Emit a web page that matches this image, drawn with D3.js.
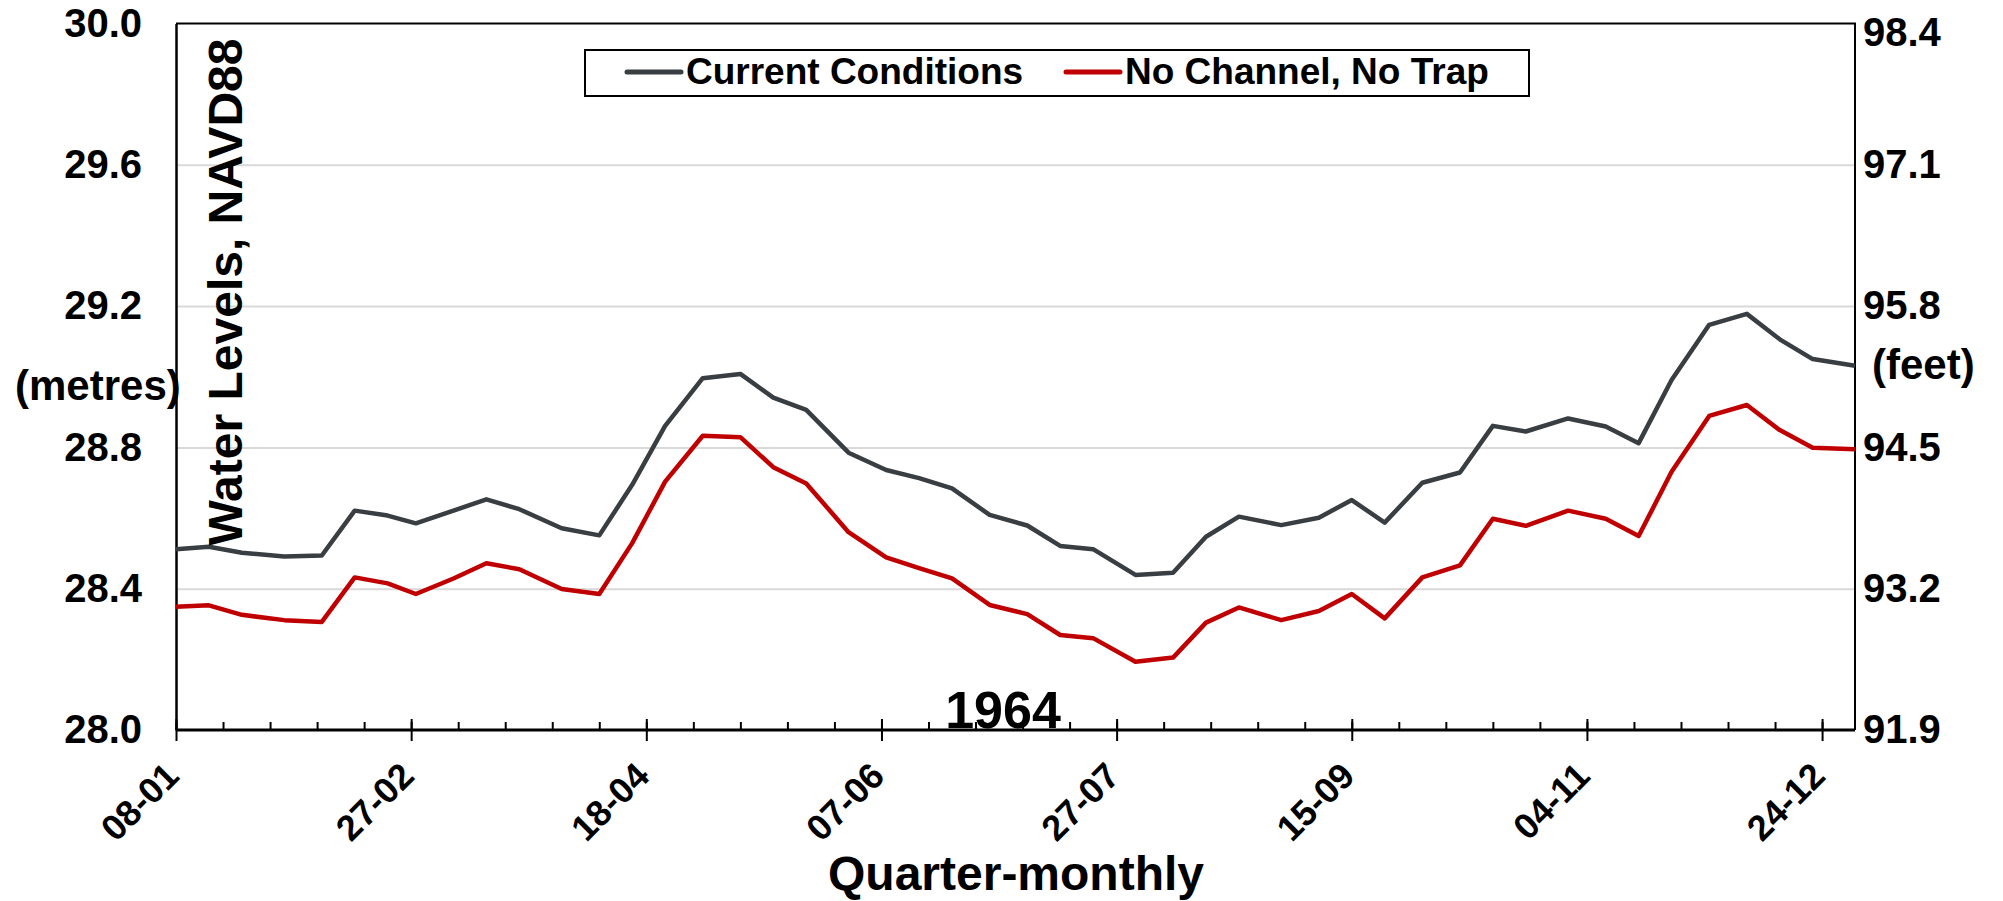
<!DOCTYPE html>
<html>
<head>
<meta charset="utf-8">
<script src="https://cdn.jsdelivr.net/npm/d3@7"></script>
<style>
  body { margin: 0; background: #fff; }
  svg { display: block; font-family: "Liberation Sans", Arial, sans-serif; font-weight: bold; }
</style>
</head>
<body>
<div id="chart"></div>
<script>
const width = 2003;
const height = 901;
const margin = { top: 23.5, right: 148, bottom: 171, left: 176 };

// quarter-monthly dates (dd-mm)
const dates = [
  "08-01", "15-01", "22-01", "31-01", "08-02", "15-02", "22-02", "28-02",
  "08-03", "15-03", "22-03", "31-03", "08-04", "15-04", "22-04", "30-04",
  "08-05", "15-05", "22-05", "31-05", "08-06", "15-06", "22-06", "30-06",
  "08-07", "15-07", "22-07", "31-07", "08-08", "15-08", "22-08", "31-08",
  "08-09", "15-09", "22-09", "30-09", "08-10", "15-10", "22-10", "31-10",
  "08-11", "15-11", "22-11", "30-11", "08-12", "15-12", "22-12", "31-12"
];

const currentConditions = [
  28.512, 28.519, 28.502, 28.491, 28.494, 28.621, 28.607, 28.585,
  28.621, 28.653, 28.625, 28.571, 28.551, 28.694, 28.861, 28.996,
  29.008, 28.941, 28.906, 28.785, 28.736, 28.713, 28.684, 28.609,
  28.579, 28.521, 28.512, 28.439, 28.445, 28.547, 28.604, 28.580,
  28.601, 28.651, 28.587, 28.700, 28.729, 28.861, 28.845, 28.882,
  28.859, 28.812, 28.991, 29.147, 29.178, 29.106, 29.050, 29.031
];

const noChannelNoTrap = [
  28.349, 28.353, 28.326, 28.311, 28.306, 28.432, 28.415, 28.385,
  28.429, 28.472, 28.455, 28.399, 28.385, 28.529, 28.703, 28.833,
  28.829, 28.744, 28.698, 28.560, 28.489, 28.458, 28.429, 28.354,
  28.328, 28.269, 28.260, 28.193, 28.205, 28.304, 28.347, 28.311,
  28.337, 28.385, 28.316, 28.432, 28.466, 28.598, 28.578, 28.621,
  28.598, 28.549, 28.731, 28.889, 28.920, 28.849, 28.799, 28.795
];

const xTickLabels = ["08-01", "27-02", "18-04", "07-06", "27-07", "15-09", "04-11", "24-12"];
const metreTicks = [28.0, 28.4, 28.8, 29.2, 29.6, 30.0];
const feetLabels = ["91.9", "93.2", "94.5", "95.8", "97.1", "98.4"];
const seriesNames = ["Current Conditions", "No Channel, No Trap"];
const seriesColors = ["#383e42", "#c00000"];

const parseDay = d3.utcParse("%d-%m");
const M_TO_FT = 3.28084;

let svg = d3.select("#chart")
            .append("svg")
            .attr("width", width)
            .attr("height", height);

const x0 = margin.left;
const x1 = width - margin.right;
const y0 = height - margin.bottom;
const y1 = margin.top;

let x = d3.scaleUtc()
          .domain([parseDay(dates[0]), parseDay(dates[dates.length - 1])])
          .range([x0, x1]);
let y = d3.scaleLinear().domain([28, 30]).range([y0, y1]);
let yFeet = d3.scaleLinear().domain([28 * M_TO_FT, 30 * M_TO_FT]).range([y0, y1]);

// gridlines
svg.append("g")
   .attr("transform", `translate(${x0},0)`)
   .call(d3.axisLeft(y).tickValues(metreTicks.slice(1, -1)).tickSize(-(x1 - x0)).tickFormat(""))
   .call(g => g.select(".domain").remove())
   .call(g => g.selectAll("line").attr("stroke", "#d9d9d9").attr("stroke-width", 2));

// plot frame (top + right)
svg.append("path")
   .attr("d", `M${x0},${y1}H${x1}V${y0}`)
   .attr("fill", "none")
   .attr("stroke", "#000")
   .attr("stroke-width", 2);

// left axis
svg.append("g")
   .attr("transform", `translate(${x0},0)`)
   .call(d3.axisLeft(y).tickValues(metreTicks).tickSize(0).tickPadding(34).tickFormat(d3.format(".1f")))
   .call(g => g.select(".domain").attr("stroke-width", 2.5))
   .call(g => g.selectAll("text").attr("font-size", 40).attr("font-family", null).attr("fill", "#000"));

// right axis (feet)
svg.append("g")
   .attr("transform", `translate(${x1},0)`)
   .call(d3.axisRight(yFeet).tickValues(metreTicks.map(m => m * M_TO_FT)).tickSize(0).tickPadding(8)
          .tickFormat((d, i) => feetLabels[i]))
   .call(g => g.select(".domain").remove())
   .call(g => g.selectAll("text")
               .attr("font-size", 40).attr("font-family", null).attr("fill", "#000")
               .attr("dy", (d, i) => i === feetLabels.length - 1 ? "0.55em" : "0.32em"));

// x axis: minor ticks every 10 days, major every 50 days
const start = parseDay(dates[0]);
const minorDates = d3.range(0, 36).map(i => d3.utcDay.offset(start, i * 10));
const majorDates = xTickLabels.map(parseDay);

svg.append("g")
   .attr("transform", `translate(0,${y0})`)
   .call(d3.axisTop(x).tickValues(minorDates).tickSize(8).tickFormat(""))
   .call(g => g.select(".domain").remove())
   .call(g => g.selectAll("line").attr("stroke-width", 2));

svg.append("g")
   .attr("transform", `translate(0,${y0 - 11})`)
   .call(d3.axisBottom(x).tickValues(majorDates).tickSize(22).tickFormat(""))
   .call(g => g.select(".domain").remove())
   .call(g => g.selectAll("line").attr("stroke-width", 2));

svg.append("line")
   .attr("x1", x0).attr("x2", x1)
   .attr("y1", y0).attr("y2", y0)
   .attr("stroke", "#000")
   .attr("stroke-width", 3);

svg.selectAll(".xlabel")
   .data(majorDates)
   .enter()
   .append("text")
   .attr("class", "xlabel")
   .attr("transform", d => `translate(${x(d) + 5},${y0 + 48}) rotate(-45)`)
   .attr("text-anchor", "end")
   .attr("font-size", 36)
   .text((d, i) => xTickLabels[i]);

// lines
const series = [currentConditions, noChannelNoTrap];
const line = d3.line()
               .x((d, i) => x(parseDay(dates[i])))
               .y(d => y(d));

svg.selectAll(".series")
   .data(series)
   .enter()
   .append("path")
   .attr("class", "series")
   .attr("d", line)
   .attr("fill", "none")
   .attr("stroke", (d, i) => seriesColors[i])
   .attr("stroke-width", 4.5)
   .attr("stroke-linejoin", "round");

// axis titles
svg.append("text")
   .attr("transform", `translate(242,292) rotate(-90)`)
   .attr("text-anchor", "middle")
   .attr("font-size", 48)
   .text("Water Levels, NAVD88");

svg.append("text")
   .attr("x", 15).attr("y", 400)
   .attr("font-size", 42)
   .text("(metres)");

svg.append("text")
   .attr("x", 1872).attr("y", 379)
   .attr("font-size", 42)
   .text("(feet)");

svg.append("text")
   .attr("x", 1003).attr("y", 728)
   .attr("text-anchor", "middle")
   .attr("font-size", 52)
   .text("1964");

svg.append("text")
   .attr("x", 1016).attr("y", 890)
   .attr("text-anchor", "middle")
   .attr("font-size", 48)
   .text("Quarter-monthly");

// legend
let legend = svg.append("g").attr("id", "legend");
legend.append("rect")
      .attr("x", 585).attr("y", 50)
      .attr("width", 944).attr("height", 46)
      .attr("fill", "#fff")
      .attr("stroke", "#000")
      .attr("stroke-width", 2);

const legendX = [627, 1066];
seriesNames.forEach((name, i) => {
  legend.append("line")
        .attr("x1", legendX[i]).attr("x2", legendX[i] + 54)
        .attr("y1", 72).attr("y2", 72)
        .attr("stroke", seriesColors[i])
        .attr("stroke-width", 5)
        .attr("stroke-linecap", "round");
  legend.append("text")
        .attr("x", legendX[i] + 59).attr("y", 84)
        .attr("font-size", 37)
        .text(name);
});
</script>
</body>
</html>
